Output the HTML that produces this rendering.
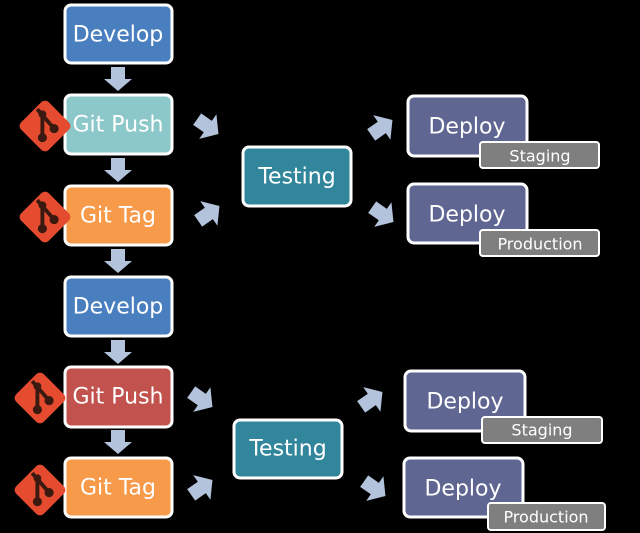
<!DOCTYPE html>
<html><head><style>
html,body{margin:0;padding:0;background:#000;}
svg{display:block}
text{font-family:"DejaVu Sans","Liberation Sans",sans-serif;fill:#fff;text-anchor:middle;dominant-baseline:central}
</style></head><body>
<svg width="640" height="533" viewBox="0 0 640 533" xmlns="http://www.w3.org/2000/svg">
<defs>
<g id="down"><path d="M-7,0 H7 V12 H14 L0,24 L-14,12 H-7 Z" fill="#b4c3dc"/></g>
<g id="diag"><path d="M-12,-7 H1 V-15 L14,0 L1,15 V7 H-12 Z" fill="#b4c3dc"/></g>
<g id="git" transform="scale(1.3)">
<rect x="-15" y="-15" width="30" height="30" rx="4" fill="#e44b2f" transform="rotate(45)"/>
<path d="M-6,-13 L7,2" stroke="#3a1a10" stroke-width="3"/>
<path d="M-2,-9 V9" stroke="#3a1a10" stroke-width="3"/>
<circle cx="-2" cy="-9" r="3" fill="#3a1a10"/><circle cx="-2" cy="9" r="3.5" fill="#3a1a10"/><circle cx="7" cy="2" r="3.5" fill="#3a1a10"/>
</g>
</defs>
<g stroke="#fff" stroke-width="3">
<rect x="65" y="5" width="107" height="58" rx="6" fill="#4a7fbf"/>
<rect x="65" y="95" width="107" height="59" rx="6" fill="#8cc7c9"/>
<rect x="65" y="186" width="107" height="59" rx="6" fill="#f79a4a"/>
<rect x="243" y="147" width="108" height="59" rx="6" fill="#31869c"/>
<rect x="408" y="96" width="119" height="60" rx="6" fill="#5f6692"/>
<rect x="408" y="184" width="119" height="59" rx="6" fill="#5f6692"/>
<rect x="65" y="277" width="107" height="59" rx="6" fill="#4a7fbf"/>
<rect x="65" y="367" width="107" height="60" rx="6" fill="#c2524e"/>
<rect x="65" y="458" width="107" height="59" rx="6" fill="#f79a4a"/>
<rect x="234" y="420" width="108" height="58" rx="6" fill="#31869c"/>
<rect x="405" y="371" width="120" height="60" rx="6" fill="#5f6692"/>
<rect x="404" y="458" width="119" height="59" rx="6" fill="#5f6692"/>
</g>
<g stroke="#fff" stroke-width="2" fill="#7f7f7f">
<rect x="480" y="142" width="119" height="26" rx="3"/>
<rect x="480" y="230" width="119" height="26" rx="3"/>
<rect x="482" y="417" width="120" height="26" rx="3"/>
<rect x="488" y="503" width="117" height="27" rx="3"/>
</g>
<g font-size="22">
<text x="118" y="35">Develop</text>
<text x="118" y="125">Git Push</text>
<text x="118" y="216">Git Tag</text>
<text x="297" y="177">Testing</text>
<text x="467" y="127">Deploy</text>
<text x="467" y="215">Deploy</text>
<text x="118" y="307">Develop</text>
<text x="118" y="397">Git Push</text>
<text x="118" y="488">Git Tag</text>
<text x="288" y="449">Testing</text>
<text x="465" y="402">Deploy</text>
<text x="463" y="489">Deploy</text>
</g>
<g font-size="16">
<text x="540" y="156">Staging</text>
<text x="540" y="244">Production</text>
<text x="542" y="430">Staging</text>
<text x="546" y="517">Production</text>
</g>
<use href="#down" x="118" y="67"/>
<use href="#down" x="118" y="158"/>
<use href="#down" x="118" y="249"/>
<use href="#down" x="118" y="340"/>
<use href="#down" x="118" y="430"/>
<use href="#diag" transform="translate(207,126) rotate(35)"/>
<use href="#diag" transform="translate(208,214) rotate(-35)"/>
<use href="#diag" transform="translate(381,128) rotate(-35)"/>
<use href="#diag" transform="translate(382,214) rotate(35)"/>
<use href="#diag" transform="translate(201,399) rotate(35)"/>
<use href="#diag" transform="translate(201,488) rotate(-35)"/>
<use href="#diag" transform="translate(371,400) rotate(-35)"/>
<use href="#diag" transform="translate(374,488) rotate(35)"/>
<use href="#git" x="45" y="126"/>
<use href="#git" x="45" y="217"/>
<use href="#git" x="40" y="398"/>
<use href="#git" x="40" y="490"/>
</svg>
</body></html>
